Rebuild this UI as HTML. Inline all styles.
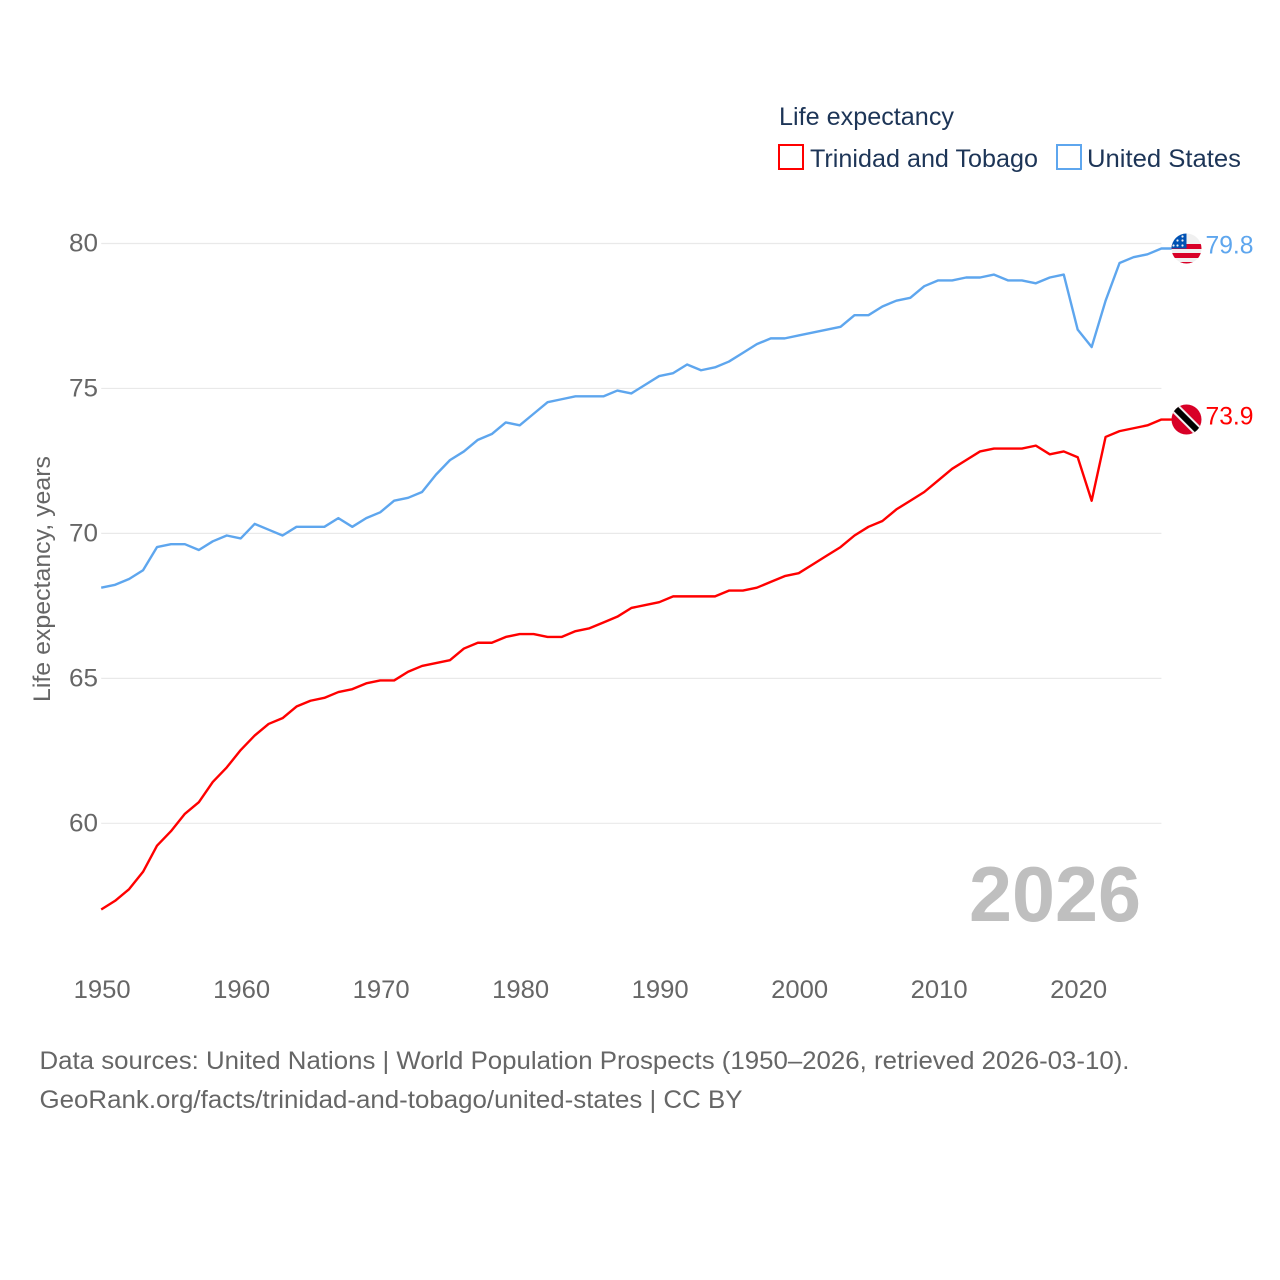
<!DOCTYPE html>
<html lang="en">
<head>
<meta charset="utf-8">
<title>Life expectancy: Trinidad and Tobago vs United States</title>
<style>
html,body{margin:0;padding:0;background:#fff;}
svg{display:block;font-family:"Liberation Sans",sans-serif;}
</style>
</head>
<body>
<svg id="chart" xmlns="http://www.w3.org/2000/svg" width="1280" height="1280" viewBox="0 0 1280 1280">
  <defs>
    <clipPath id="clip-us"><circle cx="0" cy="0" r="15"/></clipPath>
    <clipPath id="clip-tt"><circle cx="0" cy="0" r="15"/></clipPath>
  </defs>
  <rect width="1280" height="1280" fill="#fff"/>

  <g>
    <text x="779" y="125" font-size="25" fill="#1d3557" textLength="175" lengthAdjust="spacingAndGlyphs">Life expectancy</text>
    <g>
      <rect x="779" y="145" width="24" height="24" fill="none" stroke="#ff0000" stroke-width="2"/>
      <text x="810" y="167" font-size="25" fill="#1d3557" textLength="228" lengthAdjust="spacingAndGlyphs">Trinidad and Tobago</text>
    </g>
    <g>
      <rect x="1057" y="145" width="24" height="24" fill="none" stroke="#5ea6ee" stroke-width="2"/>
      <text x="1087" y="167" font-size="25" fill="#1d3557" textLength="154" lengthAdjust="spacingAndGlyphs">United States</text>
    </g>
  </g>

  <g id="grid"></g>
  <g id="yticks"></g>
  <g id="xticks"></g>

  <text transform="translate(50,579) rotate(-90)" text-anchor="middle" font-size="24" fill="#666" textLength="246" lengthAdjust="spacingAndGlyphs">Life expectancy, years</text>

  <text id="year-label" x="969" y="921" font-size="78" font-weight="bold" fill="#bfbfbf" textLength="172" lengthAdjust="spacingAndGlyphs">2026</text>

  <polyline id="line-us" fill="none" stroke="#5ea6ee" stroke-width="2.4" stroke-linejoin="round"/>
  <polyline id="line-tt" fill="none" stroke="#ff0000" stroke-width="2.4" stroke-linejoin="round"/>

  <g id="flag-us">
    <g clip-path="url(#clip-us)">
      <rect x="-15" y="-16" width="30" height="32" fill="#f0f0f0"/>
      <rect x="-15" y="-4.5" width="30" height="5" fill="#d80027"/>
      <rect x="-15" y="4.5" width="30" height="5" fill="#d80027"/>
      <rect x="-15" y="13.5" width="30" height="3" fill="#d80027"/>
      <rect x="-15" y="-16" width="15" height="16" fill="#0052b4"/>
      <circle cx="-9" cy="-8" r="1.1" fill="#f0f0f0"/>
      <circle cx="-4" cy="-8" r="1.1" fill="#f0f0f0"/>
      <circle cx="-4" cy="-12" r="1.1" fill="#f0f0f0"/>
      <circle cx="-9" cy="-3" r="1.1" fill="#f0f0f0"/>
      <circle cx="-4" cy="-3" r="1.1" fill="#f0f0f0"/>
      <circle cx="-13" cy="-3" r="1.1" fill="#f0f0f0"/>
    </g>
  </g>
  <g id="flag-tt">
    <g clip-path="url(#clip-tt)">
      <rect x="-15" y="-16" width="30" height="32" fill="#d80027"/>
      <line x1="-15" y1="-15" x2="15" y2="15" stroke="#f0f0f0" stroke-width="10"/>
      <line x1="-15" y1="-15" x2="15" y2="15" stroke="#000" stroke-width="6"/>
    </g>
  </g>

  <text id="value-us" font-size="25" fill="#5ea6ee" textLength="48" lengthAdjust="spacingAndGlyphs"></text>
  <text id="value-tt" font-size="25" fill="#ff0000" textLength="48" lengthAdjust="spacingAndGlyphs"></text>

  <g>
    <text x="39.5" y="1069" font-size="25" fill="#666" textLength="1090" lengthAdjust="spacingAndGlyphs">Data sources: United Nations | World Population Prospects (1950–2026, retrieved 2026-03-10).</text>
    <text x="39.5" y="1108" font-size="25" fill="#666" textLength="703" lengthAdjust="spacingAndGlyphs">GeoRank.org/facts/trinidad-and-tobago/united-states | CC BY</text>
  </g>
</svg>
<script>
const firstYear = 1950;
const yTickValues = [60, 65, 70, 75, 80];
const xTickValues = [1950, 1960, 1970, 1980, 1990, 2000, 2010, 2020];
const unitedStates = [
  68.1, 68.2, 68.4, 68.7, 69.5, 69.6, 69.6, 69.4, 69.7, 69.9,
  69.8, 70.3, 70.1, 69.9, 70.2, 70.2, 70.2, 70.5, 70.2, 70.5,
  70.7, 71.1, 71.2, 71.4, 72.0, 72.5, 72.8, 73.2, 73.4, 73.8,
  73.7, 74.1, 74.5, 74.6, 74.7, 74.7, 74.7, 74.9, 74.8, 75.1,
  75.4, 75.5, 75.8, 75.6, 75.7, 75.9, 76.2, 76.5, 76.7, 76.7,
  76.8, 76.9, 77.0, 77.1, 77.5, 77.5, 77.8, 78.0, 78.1, 78.5,
  78.7, 78.7, 78.8, 78.8, 78.9, 78.7, 78.7, 78.6, 78.8, 78.9,
  77.0, 76.4, 78.0, 79.3, 79.5, 79.6, 79.8
];
const trinidadAndTobago = [
  57.0, 57.3, 57.7, 58.3, 59.2, 59.7, 60.3, 60.7, 61.4, 61.9,
  62.5, 63.0, 63.4, 63.6, 64.0, 64.2, 64.3, 64.5, 64.6, 64.8,
  64.9, 64.9, 65.2, 65.4, 65.5, 65.6, 66.0, 66.2, 66.2, 66.4,
  66.5, 66.5, 66.4, 66.4, 66.6, 66.7, 66.9, 67.1, 67.4, 67.5,
  67.6, 67.8, 67.8, 67.8, 67.8, 68.0, 68.0, 68.1, 68.3, 68.5,
  68.6, 68.9, 69.2, 69.5, 69.9, 70.2, 70.4, 70.8, 71.1, 71.4,
  71.8, 72.2, 72.5, 72.8, 72.9, 72.9, 72.9, 73.0, 72.7, 72.8,
  72.6, 71.1, 73.3, 73.5, 73.6, 73.7, 73.9
];

const SVG_NS = 'http://www.w3.org/2000/svg';
function xScale(year) { return 101.2 + (year - 1950) * 13.95; }
function yScale(v) { return 823.3 - (v - 60) * 28.99; }
const markOffsetY = -0.8;

const grid = document.getElementById('grid');
const yTicks = document.getElementById('yticks');
const xTicks = document.getElementById('xticks');

yTickValues.forEach(function (v) {
  const line = document.createElementNS(SVG_NS, 'line');
  
  
  line.setAttribute('x1', xScale(1950));
  line.setAttribute('x2', xScale(2026));
  line.setAttribute('y1', yScale(v));
  line.setAttribute('y2', yScale(v));
  line.setAttribute('stroke', '#e9e9e9');
  line.setAttribute('stroke-width', '1.2');
  grid.appendChild(line);

  const label = document.createElementNS(SVG_NS, 'text');
  
  
  label.setAttribute('x', 98);
  label.setAttribute('y', yScale(v) + 8);
  label.setAttribute('text-anchor', 'end');
  label.setAttribute('font-size', '25');
  label.setAttribute('fill', '#666');
  label.setAttribute('textLength', '29');
  label.setAttribute('lengthAdjust', 'spacingAndGlyphs');
  label.textContent = v;
  yTicks.appendChild(label);
});

xTickValues.forEach(function (year) {
  const label = document.createElementNS(SVG_NS, 'text');
  
  
  label.setAttribute('x', xScale(year) + 1);
  label.setAttribute('y', 998);
  label.setAttribute('text-anchor', 'middle');
  label.setAttribute('font-size', '25');
  label.setAttribute('fill', '#666');
  label.setAttribute('textLength', '57');
  label.setAttribute('lengthAdjust', 'spacingAndGlyphs');
  label.textContent = year;
  xTicks.appendChild(label);
});

function drawSeries(values, lineId, flagId, valueId) {
  const pts = values.map(function (v, i) {
    return xScale(firstYear + i).toFixed(2) + ',' + (yScale(v) + markOffsetY).toFixed(2);
  });
  const last = values[values.length - 1];
  const endY = yScale(last) + markOffsetY;
  pts.push('1172,' + endY.toFixed(2));
  document.getElementById(lineId).setAttribute('points', pts.join(' '));
  document.getElementById(flagId).setAttribute('transform', 'translate(1186.5,' + endY.toFixed(2) + ')');
  const valueLabel = document.getElementById(valueId);
  valueLabel.setAttribute('x', 1205.5);
  valueLabel.setAttribute('y', endY + 5);
  valueLabel.textContent = last.toFixed(1);
}
drawSeries(unitedStates, 'line-us', 'flag-us', 'value-us');
drawSeries(trinidadAndTobago, 'line-tt', 'flag-tt', 'value-tt');
</script>
</body>
</html>
